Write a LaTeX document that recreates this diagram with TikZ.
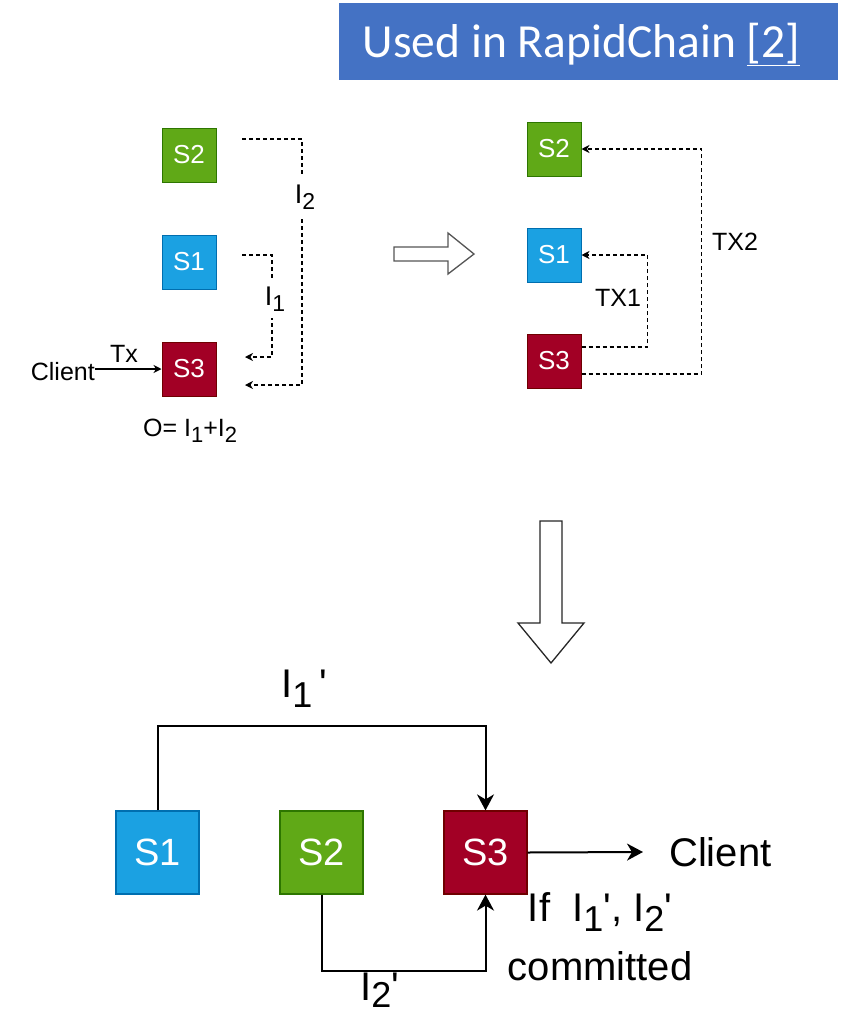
\documentclass[tikz,border=0pt]{standalone}
\usepackage{fontspec}
\setmainfont{Liberation Sans}
\newfontfamily\bannerfont{Carlito}
\usetikzlibrary{arrows.meta,calc}

\definecolor{grnF}{HTML}{60A917}
\definecolor{grnD}{HTML}{2D7600}
\definecolor{bluF}{HTML}{1BA1E2}
\definecolor{bluD}{HTML}{006EAF}
\definecolor{redF}{HTML}{A20025}
\definecolor{redD}{HTML}{6F0000}
\definecolor{bannerblue}{HTML}{4472C4}
\definecolor{hollowgray}{HTML}{555555}

% lowered, slightly smaller digit used for the subscripts
\newcommand\lowdigit[3]{\raisebox{-#3}{\fontsize{#2}{#2}\selectfont #1}}
\newcommand\prm{\textquotesingle}

\tikzset{
  tbox/.style={minimum size=54pt, inner sep=0pt, line width=1pt, text=white,
               font=\fontsize{26}{26}\selectfont},
  bbox/.style={minimum size=83pt, inner sep=0pt, line width=1.2pt, text=white,
               font=\fontsize{38}{38}\selectfont},
  grn/.style={fill=grnF, draw=grnD},
  blu/.style={fill=bluF, draw=bluD},
  rd/.style={fill=redF, draw=redD},
  dconn/.style={line width=1.1pt, dash pattern=on 4pt off 3pt,
                -{Stealth[length=8pt,width=8pt,inset=2.5pt]}},
  sconn/.style={line width=1.1pt, -{Stealth[length=8pt,width=8pt,inset=2.5pt]}},
  bconn/.style={line width=2pt, -{Stealth[length=16pt,width=17pt,inset=5pt]}},
  tlab/.style={font=\fontsize{25}{25}\selectfont, inner sep=1pt},
  blab/.style={font=\fontsize{40}{40}\selectfont, inner sep=1pt},
  hollow/.style={fill=white, line width=1.3pt, line join=miter},
}

\begin{document}
\begin{tikzpicture}[x=1pt, y=-1pt]
\useasboundingbox (0,0) rectangle (846,1017);

% ---- title banner ----
\node[fill=bannerblue, minimum width=499pt, minimum height=77pt, inner sep=0pt,
      anchor=north west] (banner) at (339,3) {};
\node[text=white, anchor=base, inner sep=0pt] (bannertext) at (581.5,57)
  {\bannerfont\fontsize{47.5}{47.5}\selectfont Used in RapidChain \underline{[2]}};

% ---- step 1: client sends Tx to S3 ----
\node[tbox, grn] (ls2) at (189,155) {S2};
\node[tbox, blu] (ls1) at (189,262) {S1};
\node[tbox, rd]  (ls3) at (189,369) {S3};

\coordinate (i1s) at (242,255);
\coordinate (i1e) at (245,357);
\coordinate (i2s) at (242,139);
\coordinate (i2e) at (245,385);
\draw[dconn] (i1s) -- (272,255) -- (272,357) -- (i1e);
\draw[dconn] (i2s) -- (302,139) -- (302,385) -- (i2e);
\node[tlab, font=\fontsize{27}{27}\selectfont, fill=white, minimum height=38pt] (li1) at (275,299)
  {I\lowdigit{1}{23}{6pt}};
\node[tlab, font=\fontsize{27}{27}\selectfont, fill=white, minimum height=44pt] (li2) at (305,197)
  {I\lowdigit{2}{23}{6pt}};

\node[tlab, inner sep=0pt, anchor=base east] (lclient) at (95,380) {Client};
\draw[sconn] (lclient.east |- ls3.west) -- (ls3.west);
\node[tlab, inner sep=0pt, anchor=base] (ltx) at (124,362) {Tx};

\node[tlab, inner sep=0pt, anchor=base west] (lout) at (143,436)
  {O= I\lowdigit{1}{22}{6pt}+I\lowdigit{2}{22}{6pt}};

% ---- hollow arrow to the right ----
\draw[hollow, draw=hollowgray] (394,247) -- (448,247) -- (448,233) -- (474,254)
  -- (448,274) -- (448,261) -- (394,261) -- cycle;

% ---- step 2: S3 forwards TX1 and TX2 ----
\node[tbox, grn] (rs2) at (554,149) {S2};
\node[tbox, blu] (rs1) at (554,255) {S1};
\node[tbox, rd]  (rs3) at (554,361) {S3};

\draw[dconn] ($(rs3.east)+(0,-14)$) -- ++(66,0) |- (rs1.east);
\draw[dconn] ($(rs3.east)+(0,13)$) -- ++(120,0) |- (rs2.east);
\node[tlab] (ltx1) at (618,298) {TX1};
\node[tlab] (ltx2) at (735,242) {TX2};

% ---- hollow arrow downwards ----
\draw[hollow, draw=black!85] (540,521) -- (562,521) -- (562,623) -- (584,623)
  -- (551,663) -- (518,623) -- (540,623) -- cycle;

% ---- step 3: S1 and S2 confirm to S3 ----
\node[bbox, blu] (bs1) at (157.5,852.5) {S1};
\node[bbox, grn] (bs2) at (321.5,852.5) {S2};
\node[bbox, rd]  (bs3) at (485.5,852.5) {S3};

\draw[bconn] (bs1.north) -- (157.5,726) -| (bs3.north);
\draw[bconn] (bs2.south) -- (321.5,971) -| (bs3.south);
\node[blab, inner sep=0pt, anchor=base west] (lb1) at (281,697)
  {I\lowdigit{1}{36}{10pt}\,\prm};
\node[blab, inner sep=0pt, anchor=base west] (lb2) at (360,1000)
  {I\lowdigit{2}{36}{7pt}\prm};

\node[blab, inner sep=0pt, anchor=west] (bclient) at (669,852) {Client};
\draw[bconn] (bs3.east) -- ([xshift=-26pt]bclient.west);

\node[blab, inner sep=0pt, anchor=base] (cond1) at (600,921)
  {If\ \ I\lowdigit{1}{36}{10pt}\prm, I\lowdigit{2}{36}{10pt}\prm};
\node[blab, inner sep=0pt, anchor=base] (cond2) at (600,980) {committed};
\end{tikzpicture}
\end{document}
